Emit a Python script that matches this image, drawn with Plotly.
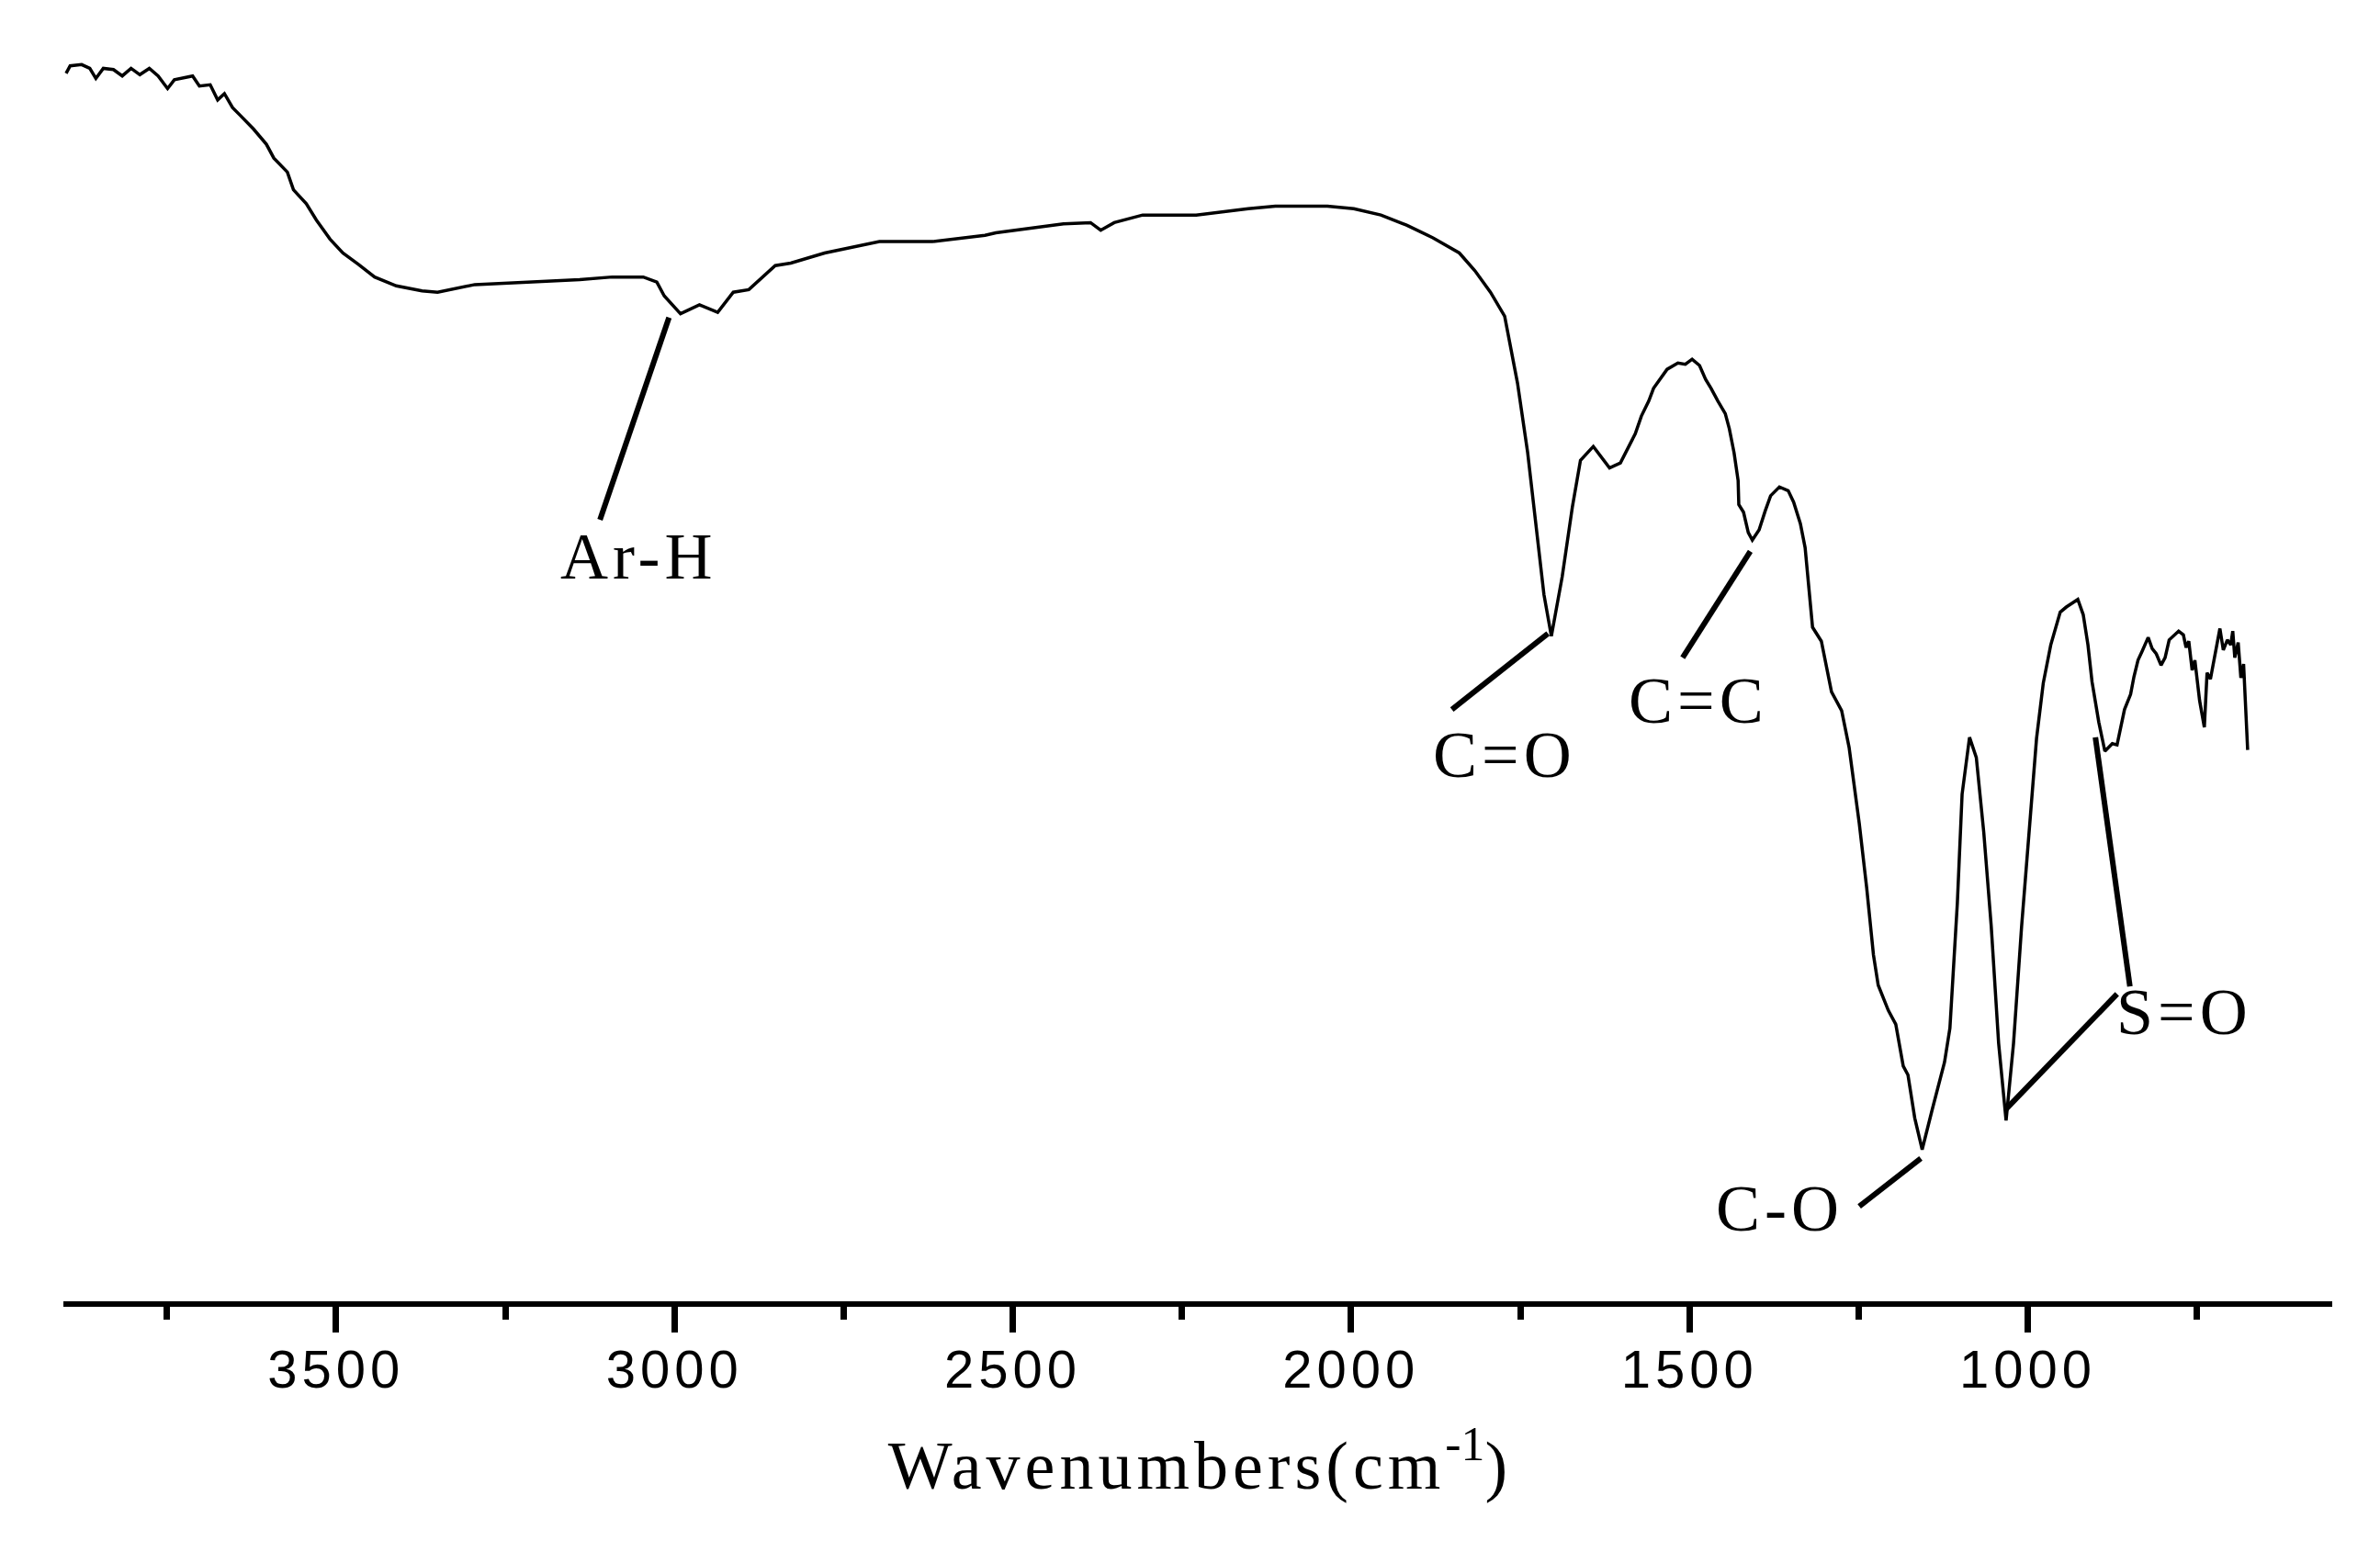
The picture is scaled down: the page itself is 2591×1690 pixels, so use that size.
import plotly.graph_objects as go

# FTIR spectrum (wavenumber in cm-1, transmittance in %)
wavenumber = [3899, 3893, 3876, 3864, 3855, 3844, 3829, 3816, 3803, 3790,
              3776, 3763, 3749, 3739, 3712, 3702, 3686, 3675, 3665, 3653,
              3642, 3622, 3603, 3592, 3572, 3563, 3544, 3529, 3509, 3490,
              3467, 3443, 3411, 3373, 3350, 3295, 3217, 3140, 3092, 3046,
              3026, 3015, 2991, 2963, 2936, 2913, 2890, 2851, 2828, 2778,
              2697, 2619, 2541, 2525, 2425, 2385, 2370, 2350, 2308, 2229,
              2152, 2112, 2035, 1996, 1956, 1918, 1879, 1840, 1817, 1794,
              1773, 1762, 1754, 1739, 1727, 1715, 1704, 1688, 1673, 1661,
              1642, 1618, 1602, 1580, 1571, 1560, 1553, 1544, 1533, 1517,
              1506, 1496, 1485, 1476, 1468, 1458, 1447, 1441, 1434, 1428,
              1427, 1420, 1413, 1407, 1397, 1388, 1380, 1367, 1354, 1346,
              1336, 1329, 1318, 1305, 1290, 1275, 1264, 1249, 1238, 1228,
              1221, 1206, 1195, 1184, 1177, 1167, 1156, 1141, 1123, 1115,
              1104, 1097, 1086, 1076, 1065, 1054, 1043, 1032, 1021, 1009,
              998, 987, 977, 966, 952, 943, 926, 918, 911, 905,
              895, 886, 875, 868, 857, 848, 843, 837, 831, 822,
              816, 810, 803, 797, 791, 777, 770, 766, 762, 757,
              753, 746, 739, 735, 730, 721, 716, 711, 705, 700,
              697, 694, 689, 685, 681, 675]
transmittance = [97.1, 97.7, 97.8, 97.5, 96.7, 97.5, 97.4, 96.9, 97.5, 97.0,
                 97.5, 96.9, 95.9, 96.6, 96.9, 96.1, 96.2, 95.0, 95.5, 94.4,
                 93.8, 92.7, 91.5, 90.4, 89.3, 87.9, 86.8, 85.5, 84.0, 82.9,
                 82.0, 81.0, 80.3, 79.9, 79.8, 80.4, 80.6, 80.8, 81.0, 81.0,
                 80.6, 79.5, 78.1, 78.8, 78.2, 79.8, 80.0, 81.9, 82.1, 82.9,
                 83.8, 83.8, 84.3, 84.5, 85.2, 85.3, 84.7, 85.3, 85.9, 85.9,
                 86.4, 86.6, 86.6, 86.4, 85.9, 85.1, 84.1, 82.9, 81.5, 79.8,
                 77.9, 74.8, 72.6, 67.1, 61.5, 55.9, 52.6, 57.3, 62.8, 66.5,
                 67.6, 65.9, 66.3, 68.6, 70.0, 71.2, 72.2, 72.9, 73.7, 74.2,
                 74.1, 74.5, 74.0, 72.9, 72.2, 71.2, 70.2, 69.0, 67.1, 64.9,
                 63.0, 62.4, 60.8, 60.2, 61.0, 62.5, 63.7, 64.4, 64.1, 63.2,
                 61.5, 59.6, 53.3, 52.2, 48.2, 46.7, 43.8, 37.8, 32.7, 27.4,
                 25.0, 23.0, 21.9, 18.6, 17.9, 14.5, 12.0, 15.2, 18.9, 21.6,
                 31.5, 40.1, 44.6, 43.0, 37.1, 29.7, 20.4, 14.3, 20.4, 29.7,
                 37.1, 44.5, 48.9, 51.9, 54.5, 54.9, 55.5, 54.3, 51.9, 49.0,
                 45.8, 43.5, 44.1, 44.0, 46.8, 48.0, 49.4, 50.7, 51.4, 52.5,
                 51.6, 51.2, 50.3, 50.9, 52.3, 53.0, 52.7, 51.7, 52.2, 49.9,
                 50.7, 47.5, 45.4, 49.7, 49.2, 52.0, 53.2, 51.5, 52.3, 51.9,
                 53.0, 50.9, 52.1, 49.3, 50.4, 43.6]

tick_values = [3500, 3000, 2500, 2000, 1500, 1000]
tick_labels = ['3500', '3000', '2500', '2000', '1500', '1000']

# band assignments: label text and where it sits, plus its leader line(s)
band_labels = ['Ar-H', 'C=O', 'C=C', 'C-O', 'S=O']
label_wn = [3053, 1773, 1486, 1366, 769]
label_t = [58.9, 43.2, 47.5, 7.3, 22.9]
leader_wn = [[3008, 3110], [1709, 1851], [1410, 1510], [1158, 1249],
             [1032, 868], [900, 849]]
leader_t = [[77.8, 61.8], [52.8, 46.8], [59.3, 50.9], [11.3, 7.5],
            [15.2, 24.3], [44.6, 24.9]]


def spaced(s, px):
    # the original figure uses loosely tracked lettering
    return '<span style="letter-spacing:%dpx">%s</span>' % (px, s)


data = [go.Scatter(x=wavenumber, y=transmittance, mode='lines',
                   line=dict(color='black', width=3.5), showlegend=False)]

for xs, ys in zip(leader_wn, leader_t):
    data.append(go.Scatter(x=xs, y=ys, mode='lines',
                           line=dict(color='black', width=6),
                           showlegend=False))

annotations = [dict(x=wn, y=t, text=spaced(txt, 5), showarrow=False,
                    xanchor='center', yanchor='middle',
                    font=dict(family='Liberation Serif', size=72,
                              color='black'))
               for txt, wn, t in zip(band_labels, label_wn, label_t)]

# page body has an 8px margin, so the figure is sized to fit inside it
layout = go.Layout(width=2575, height=1674,
                   paper_bgcolor='white', plot_bgcolor='white',
                   margin=dict(l=61, r=44, t=32, b=265),
                   xaxis=dict(range=[3903, 550],
                              showline=True, linecolor='black', linewidth=6,
                              showgrid=False, zeroline=False,
                              ticks='outside', ticklen=28, tickwidth=7,
                              tickcolor='black',
                              tickvals=tick_values,
                              ticktext=[spaced(t, 5) for t in tick_labels],
                              ticklabelstandoff=-10,
                              minor=dict(ticks='outside', ticklen=14,
                                         tickwidth=7, tickcolor='black',
                                         tick0=0, dtick=250, showgrid=False),
                              tickfont=dict(family='Liberation Sans', size=58,
                                            color='black'),
                              title=dict(text=spaced('Wavenumbers(cm', 5)
                                         + '<sup>-1</sup>)',
                                         font=dict(family='Liberation Serif',
                                                   size=74, color='black'),
                                         standoff=50)),
                   yaxis=dict(range=[0, 100], visible=False),
                   annotations=annotations)

fig = go.Figure(data=data, layout=layout)
fig.write_html('out.html')
